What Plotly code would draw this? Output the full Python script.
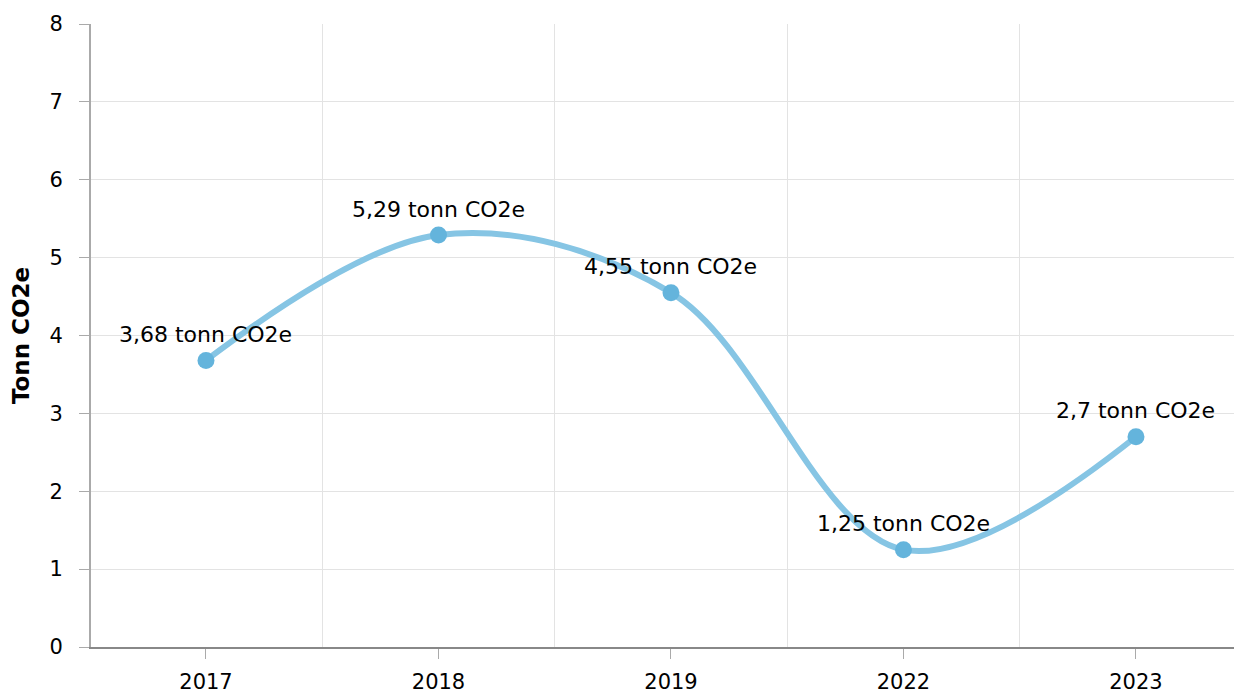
import plotly.graph_objects as go

years = ["2017", "2018", "2019", "2022", "2023"]
values = [3.68, 5.29, 4.55, 1.25, 2.70]
labels = ["3,68 tonn CO2e", "5,29 tonn CO2e", "4,55 tonn CO2e", "1,25 tonn CO2e", "2,7 tonn CO2e"]
y_ticks = [0, 1, 2, 3, 4, 5, 6, 7, 8]

FONT = "DejaVu Sans, Verdana, sans-serif"
xpos = list(range(len(years)))

fig = go.Figure()
fig.add_trace(go.Scatter(
    x=xpos, y=values, mode="lines",
    line=dict(color="#86c5e4", width=6, shape="spline", smoothing=1.0),
    hoverinfo="skip", showlegend=False,
))
fig.add_trace(go.Scatter(
    x=xpos, y=values, mode="markers",
    marker=dict(color="#64b4dc", size=17),
    showlegend=False,
))
for x, v, t in zip(xpos, values, labels):
    fig.add_annotation(x=x, y=v, text=t, showarrow=False, yshift=26,
                       yanchor="middle", xanchor="center",
                       font=dict(family=FONT, size=22, color="#000000"))

fig.update_layout(
    width=1234, height=687,
    margin=dict(l=83, r=0, t=16, b=48, autoexpand=False),
    paper_bgcolor="white", plot_bgcolor="white",
    font=dict(family=FONT, size=21, color="#000000"),
    showlegend=False,
)
fig.update_xaxes(
    range=[-0.4946, 4.456], tickvals=xpos, ticktext=years,
    showgrid=False, zeroline=False,
    showline=True, linecolor="#888888", linewidth=2,
    ticks="outside", ticklen=10, tickcolor="#aaaaaa", tickwidth=1,
    ticklabelstandoff=5,
    minor=dict(tickvals=[0.5, 1.5, 2.5, 3.5], showgrid=True, gridcolor="#e3e3e3", gridwidth=1, ticks=""),
    tickfont=dict(family=FONT, size=21, color="#000000"),
)
fig.update_yaxes(
    range=[0, 8], tickvals=y_ticks,
    showgrid=True, gridcolor="#e3e3e3", gridwidth=1, zeroline=False,
    showline=True, linecolor="#aaaaaa", linewidth=2,
    ticks="outside", ticklen=10, tickcolor="#aaaaaa", tickwidth=1,
    ticklabelstandoff=12,
    tickfont=dict(family=FONT, size=21, color="#000000"),
    title=dict(text="<b>Tonn CO2e</b>", font=dict(family=FONT, size=23, color="#000000"), standoff=20),
)

fig.write_html("out.html")
